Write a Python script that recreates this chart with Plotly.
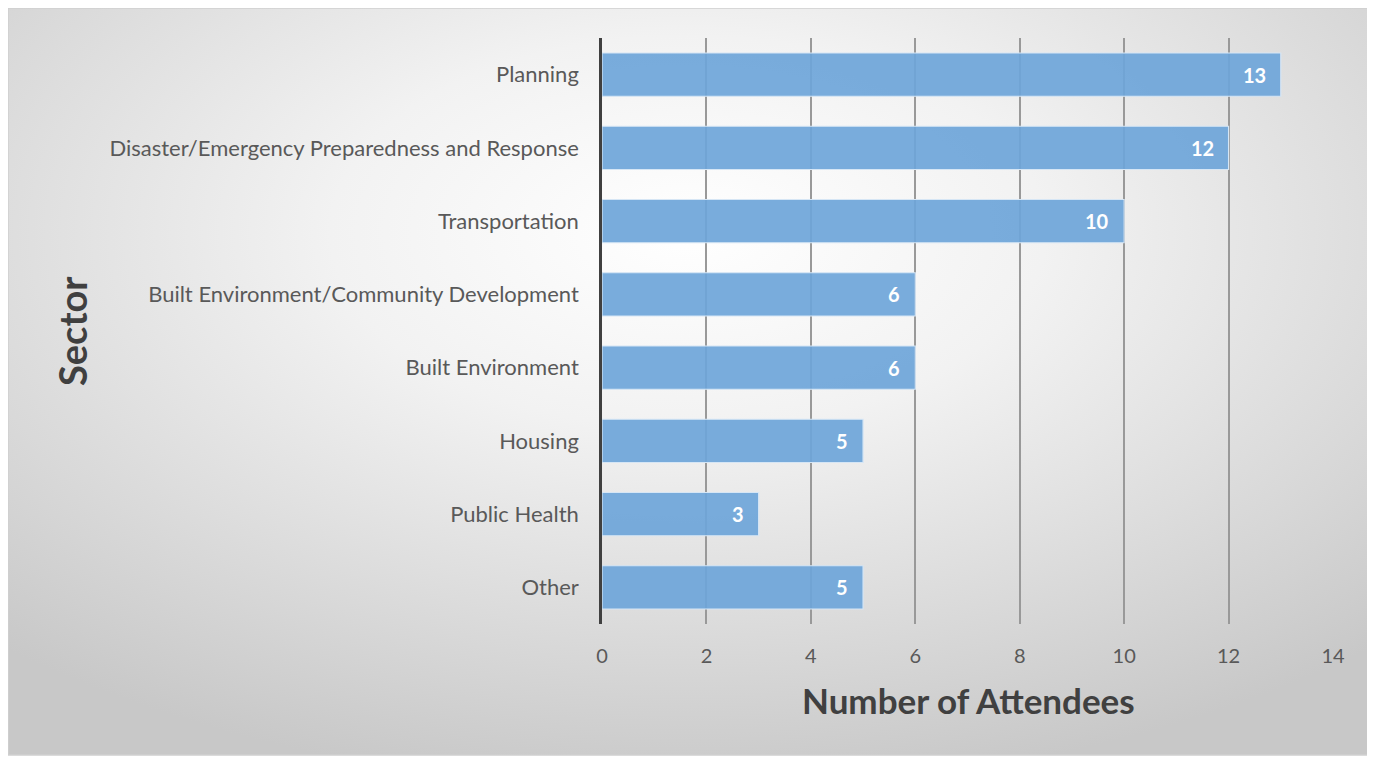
import base64
import plotly.graph_objects as go

categories = ["Planning", "Disaster/Emergency Preparedness and Response", "Transportation",
              "Built Environment/Community Development", "Built Environment", "Housing",
              "Public Health", "Other"]
attendees = [13, 12, 10, 6, 6, 5, 3, 5]
x_ticks = [0, 2, 4, 6, 8, 10, 12, 14]

OFF = 8  # page body margin
W, H = 1375 - OFF, 757 - OFF
L, R, T, B = 602 - OFF, 1375 - 1333 + 0, 38 - OFF, 757 - 624
pw, ph = W - L - R, H - T - B

def px_x(v):
    return (v - OFF - L) / pw

def px_y(v):
    return (H - B - (v - OFF)) / ph

svg = (
    '<svg xmlns="http://www.w3.org/2000/svg" width="1360" height="747" viewBox="0 0 1360 747" preserveAspectRatio="none">'
    '<defs><radialGradient id="g" cx="50%" cy="30%" r="75%">'
    '<stop offset="0" stop-color="#ffffff"/>'
    '<stop offset="0.35" stop-color="#f2f2f2"/>'
    '<stop offset="1" stop-color="#c8c8c8"/>'
    '</radialGradient></defs>'
    '<rect x="0" y="0" width="1360" height="747" fill="url(#g)"/></svg>'
)
src = "data:image/svg+xml;base64," + base64.b64encode(svg.encode()).decode()

FONT = "Lato"

fig = go.Figure()
fig.add_trace(go.Bar(
    y=categories, x=attendees, orientation="h",
    marker=dict(color="rgba(110,165,217,0.92)", line=dict(color="#d6e6f5", width=1.2)),
    hoverinfo="skip",
))
for c, v in zip(categories, attendees):
    fig.add_annotation(x=v, y=c, xref="x", yref="y", text=f"<b>{v}</b>", showarrow=False,
                       xanchor="right", xshift=-13,
                       font=dict(family=FONT, size=20, color="white"))

x0, x1 = px_x(8), px_x(1368)
y0, y1 = px_y(755), px_y(8)
fig.add_layout_image(dict(source=src, xref="paper", yref="paper", x=x0, y=y1,
                          sizex=x1 - x0, sizey=y1 - y0, sizing="stretch",
                          xanchor="left", yanchor="top", layer="below"))
fig.add_shape(type="rect", xref="paper", yref="paper", x0=x0, x1=x1, y0=y0, y1=y1,
              line=dict(color="#cfcfcf", width=1.5), layer="below")

fig.add_annotation(text="<b>Sector</b>", xref="paper", yref="paper",
                   x=px_x(72), y=px_y(331), textangle=-90, showarrow=False,
                   xanchor="center", yanchor="middle",
                   font=dict(family=FONT, size=38, color="#404040"))
fig.add_annotation(text="<b>Number of Attendees</b>", xref="paper", yref="paper",
                   x=px_x(968), y=px_y(700), showarrow=False,
                   xanchor="center", yanchor="middle",
                   font=dict(family=FONT, size=35, color="#404040"))

fig.update_layout(
    width=W, height=H,
    margin=dict(l=L, r=R, t=T, b=B),
    paper_bgcolor="white", plot_bgcolor="rgba(0,0,0,0)",
    bargap=0.41, showlegend=False,
    font=dict(family=FONT, color="#595959"),
    xaxis=dict(range=[0, 14], tickvals=x_ticks, showgrid=True, gridcolor="#999999", gridwidth=1.5,
               zeroline=False, showline=False, ticks="", tickfont=dict(size=20, color="#595959"),
               ticklabelstandoff=18),
    yaxis=dict(categoryorder="array", categoryarray=categories[::-1], showgrid=False,
               showline=True, linecolor="#404040", linewidth=2.5, ticks="",
               tickfont=dict(size=22, color="#595959"), ticklabelstandoff=16),
)

fig.write_html("out.html")
